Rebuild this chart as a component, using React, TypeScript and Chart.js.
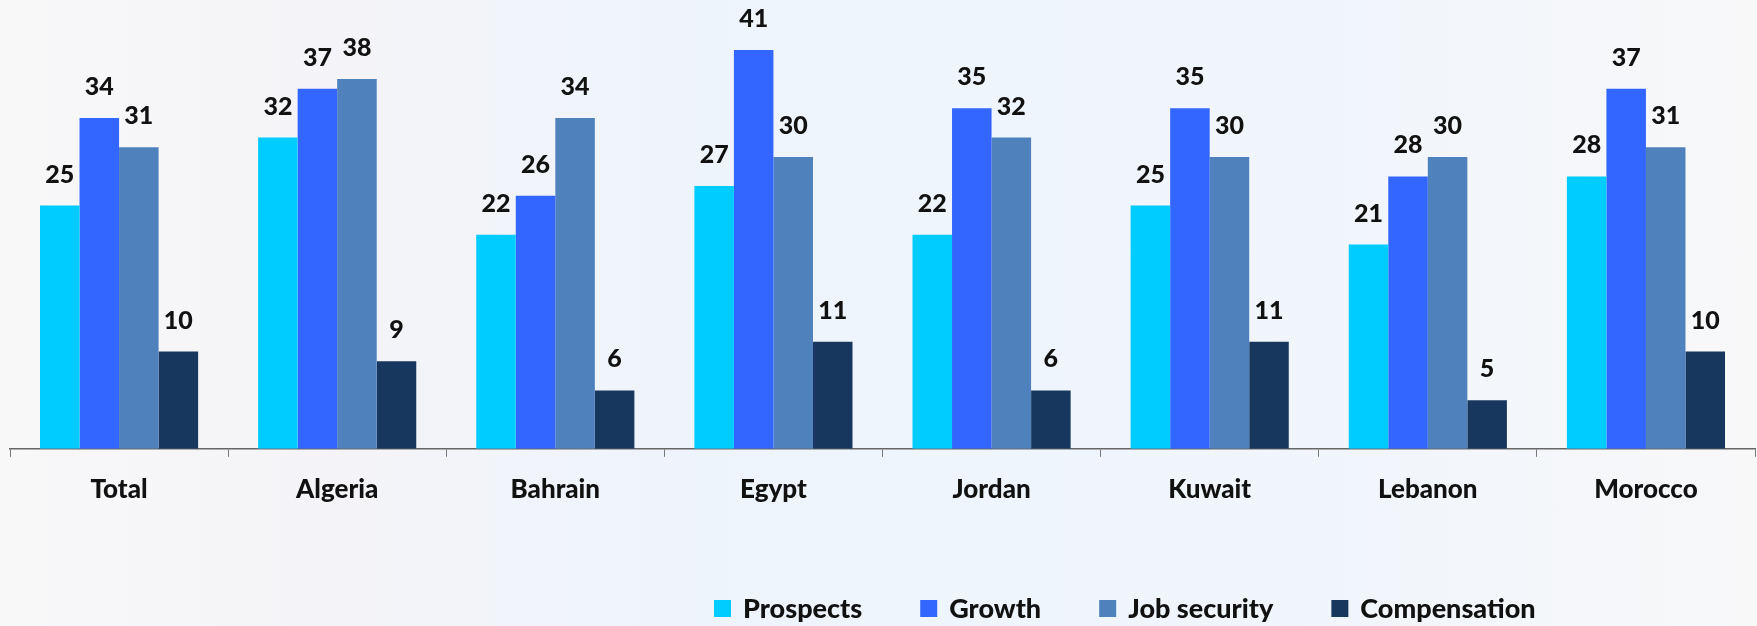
import React, { useEffect, useRef } from "react";
import { Chart, registerables } from "chart.js";

Chart.register(...registerables);

const categories = ["Total", "Algeria", "Bahrain", "Egypt", "Jordan", "Kuwait", "Lebanon", "Morocco"];
const prospects = [25, 32, 22, 27, 22, 25, 21, 28];
const growth = [34, 37, 26, 41, 35, 35, 28, 37];
const jobSecurity = [31, 38, 34, 30, 32, 30, 30, 31];
const compensation = [10, 9, 6, 11, 6, 11, 5, 10];
const seriesNames = ["Prospects", "Growth", "Job security", "Compensation"];
const seriesColors = ["#00CCFF", "#3366FF", "#4F81BD", "#17375E"];

const FONT = "Lato, 'Open Sans', sans-serif";

const valueLabels = {
  id: "valueLabels",
  afterDatasetsDraw(chart: any) {
    const ctx = chart.ctx;
    ctx.save();
    ctx.font = `900 25px ${FONT}`;
    ctx.fillStyle = "#111";
    ctx.textAlign = "center";
    ctx.textBaseline = "middle";
    chart.data.datasets.forEach((ds: any, i: number) => {
      const meta = chart.getDatasetMeta(i);
      meta.data.forEach((bar: any, j: number) => {
        ctx.fillText(String(ds.data[j]), bar.x, bar.y - 31);
      });
    });
    ctx.restore();
  },
};

const customLegend = {
  id: "customLegend",
  afterDraw(chart: any) {
    const ctx = chart.ctx;
    ctx.save();
    ctx.font = `900 27px ${FONT}`;
    ctx.textBaseline = "middle";
    ctx.textAlign = "left";
    let x = 714;
    const y = 609;
    chart.data.datasets.forEach((ds: any) => {
      ctx.fillStyle = ds.backgroundColor;
      ctx.fillRect(x, y - 9, 17, 17);
      ctx.fillStyle = "#111";
      ctx.fillText(ds.label, x + 29, y);
      x += 29 + ctx.measureText(ds.label).width + 58;
    });
    ctx.restore();
  },
};

export default function App() {
  const canvasRef = useRef<HTMLCanvasElement | null>(null);

  useEffect(() => {
    if (!canvasRef.current) return;
    const values = [prospects, growth, jobSecurity, compensation];
    const chart = new Chart(canvasRef.current, {
      type: "bar",
      data: {
        labels: categories,
        datasets: values.map((d, i) => ({
          label: seriesNames[i],
          data: d,
          backgroundColor: seriesColors[i],
          borderWidth: 0,
          categoryPercentage: 0.725,
          barPercentage: 1.0,
        })),
      },
      options: {
        animation: false,
        responsive: false,
        maintainAspectRatio: false,
        layout: { padding: { top: 11, left: 10, right: 2, bottom: 104 } },
        plugins: {
          legend: { display: false },
          tooltip: { enabled: false },
        },
        scales: {
          x: {
            grid: {
              display: true,
              drawOnChartArea: false,
              drawTicks: true,
              tickLength: 8,
              color: "#777",
              offset: true,
            },
            border: { display: true, color: "#666", width: 1.5 },
            ticks: {
              color: "#111",
              font: { family: FONT, size: 26, weight: "900" },
              padding: 17,
            },
          },
          y: {
            display: false,
            min: 0,
            max: 45,
          },
        },
      },
      plugins: [valueLabels, customLegend],
    });
    return () => chart.destroy();
  }, []);

  return (
    <div
      style={{
        position: "fixed",
        left: 0,
        top: 0,
        width: 1757,
        height: 626,
        background:
          "linear-gradient(90deg, #f8f8f9 0%, #f4f4f8 20%, #eef4fc 40%, #eff5fd 60%, #f2f6fb 80%, #f8f8f9 100%)",
      }}
    >
      <canvas ref={canvasRef} width={1757} height={626} style={{ display: "block" }} />
    </div>
  );
}
